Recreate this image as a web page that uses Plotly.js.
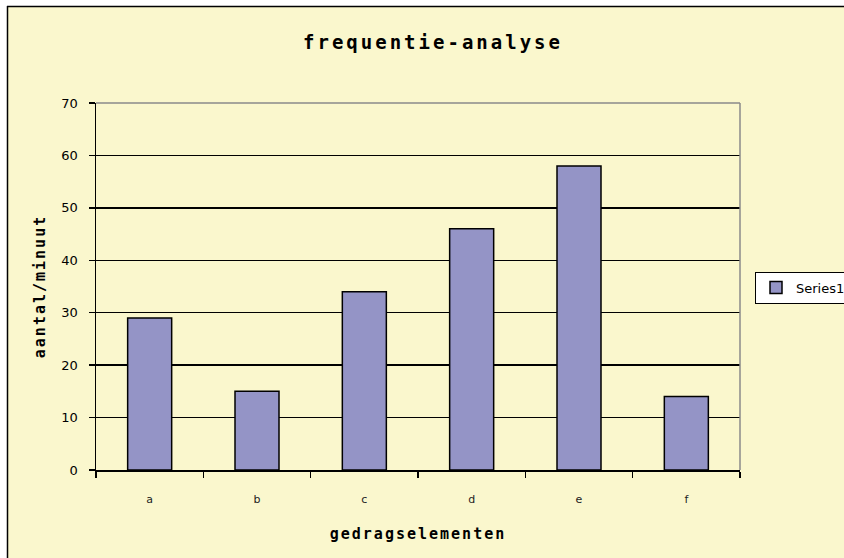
<!DOCTYPE html>
<html>
<head>
<meta charset="utf-8">
<script src="https://cdn.plot.ly/plotly-3.0.1.min.js"></script>
<style>
html,body{margin:0;padding:0;background:#fff;}
#chart{width:844px;height:558px;}
.gtitle{letter-spacing:3px;}
.xtitle,.ytitle{letter-spacing:2px;}
</style>
</head>
<body>
<div id="chart"></div>
<script>
const categories = ["a", "b", "c", "d", "e", "f"];
const series1 = [29, 15, 34, 46, 58, 14];
const seriesName = "Series1";
const yTicks = [0, 10, 20, 30, 40, 50, 60, 70];

const L = 96, R = 104, T = 103, B = 88;
const W = 844, H = 558;
const pw = W - L - R, ph = H - T - B;
const px = v => (v - L) / pw;
const py = v => (H - B - v) / ph;

const trace = {
  type: "bar",
  x: categories,
  y: series1,
  name: seriesName,
  showlegend: true,
  marker: { color: "#9494C6", line: { color: "#000000", width: 1.5 } }
};

const layout = {
  width: W, height: H,
  margin: { l: L, r: R, t: T, b: B, pad: 0, autoexpand: false },
  paper_bgcolor: "#ffffff",
  plot_bgcolor: "#F9CA98",
  bargap: 0.59,
  font: { family: "DejaVu Sans, Arial, sans-serif", color: "#000000" },
  title: {
    text: "<b>frequentie-analyse</b>",
    font: { family: "DejaVu Sans Mono, monospace", size: 19, color: "#000" },
    xref: "paper", x: px(433), xanchor: "center",
    yref: "container", y: 1 - 42 / H, yanchor: "middle"
  },
  xaxis: {
    type: "category",
    tickson: "boundaries",
    ticks: "outside", ticklen: 6, tickwidth: 1.5, tickcolor: "#000",
    showline: true, linecolor: "#000", linewidth: 1.5,
    showgrid: false, zeroline: false,
    tickfont: { family: "DejaVu Sans, sans-serif", size: 11, color: "#222" },
    ticklabelstandoff: 18,
    automargin: false,
    title: {
      text: "<b>gedragselementen</b>",
      font: { family: "DejaVu Sans Mono, monospace", size: 15, color: "#000" },
      standoff: 24
    }
  },
  yaxis: {
    range: [0, 70],
    tickvals: yTicks,
    ticktext: yTicks.map(String),
    ticks: "outside", ticklen: 6, tickwidth: 1.5, tickcolor: "#000",
    showline: true, linecolor: "#000", linewidth: 1.5,
    showgrid: true, gridcolor: "#000", gridwidth: 1.5,
    zeroline: false,
    tickfont: { family: "DejaVu Sans, sans-serif", size: 13, color: "#000" },
    ticklabelstandoff: 8,
    automargin: false,
    title: {
      text: "<b>aantal/minuut</b>",
      font: { family: "DejaVu Sans Mono, monospace", size: 15, color: "#000" },
      standoff: 12
    }
  },
  legend: {
    x: px(755), xanchor: "left",
    y: py(287.5), yanchor: "middle",
    bgcolor: "#ffffff", bordercolor: "#000", borderwidth: 1,
    font: { family: "DejaVu Sans, sans-serif", size: 13, color: "#000" },
    itemwidth: 30
  },
  shapes: [
    {
      type: "rect", xref: "paper", yref: "paper", layer: "below",
      x0: px(7), x1: px(900), y0: py(620), y1: py(6),
      fillcolor: "#FAF7CD", line: { width: 0 }
    },
    {
      type: "line", xref: "paper", yref: "paper", layer: "below",
      x0: px(7), x1: px(900), y0: py(6.5), y1: py(6.5),
      line: { color: "#000", width: 1.5 }
    },
    {
      type: "line", xref: "paper", yref: "paper", layer: "below",
      x0: px(7.5), x1: px(7.5), y0: py(620), y1: py(6),
      line: { color: "#000", width: 1.5 }
    },
    {
      type: "line", xref: "paper", yref: "paper", layer: "above",
      x0: 0, x1: 1, y0: 1, y1: 1, line: { color: "#8a8a8a", width: 1.5 }
    },
    {
      type: "line", xref: "paper", yref: "paper", layer: "above",
      x0: 1, x1: 1, y0: 0, y1: 1, line: { color: "#8a8a8a", width: 1.5 }
    }
  ]
};

Plotly.newPlot("chart", [trace], layout, { staticPlot: true, displayModeBar: false });
</script>
</body>
</html>
